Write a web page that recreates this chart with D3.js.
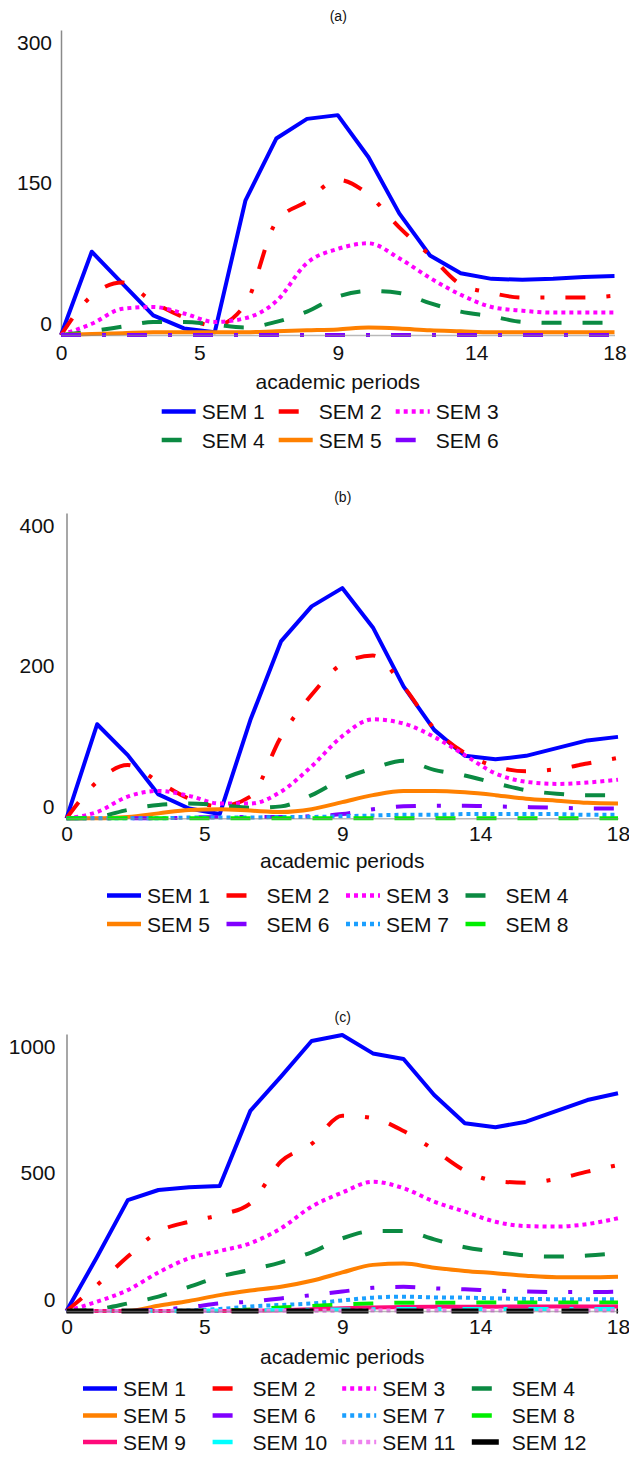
<!DOCTYPE html>
<html>
<head>
<meta charset="utf-8">
<script src="https://cdn.jsdelivr.net/npm/d3@7"></script>
<style>
  html, body { margin: 0; padding: 0; background: #ffffff; }
  svg { display: block; }
  text { font-family: "Liberation Sans", Arial, Helvetica, sans-serif; fill: #111; }
</style>
</head>
<body>
<svg id="chart" width="629" height="1458"></svg>
<script>
// ---------------- data ----------------
const periods = [0, 1, 2, 3, 4, 5, 6, 7, 8, 9, 10, 11, 12, 13, 14, 15, 16, 17, 18];
const xTickValues = [0, 4.5, 9, 13.5, 18];
const xTickLabels = ["0", "5", "9", "14", "18"];
const xTitle = "academic periods";

// panel (a)
const aTitle = "(a)";
const aYTicks = [0, 150, 300];
const aSeriesNames = ["SEM 1", "SEM 2", "SEM 3", "SEM 4", "SEM 5", "SEM 6"];
const aSem1 = [0, 89, 55, 21, 7, 3, 144, 210, 231, 235, 190, 130, 85, 66, 60, 59, 60, 62, 63];
const aSem2 = [0, 42, 56, 35, 19, 10, 33, 121, 143, 166, 150, 115, 85, 54, 45, 40, 40, 40, 42];
const aSem3 = [0, 12, 28, 30, 23, 14, 18, 36, 77, 92, 98, 82, 61, 43, 30, 26, 24, 24, 24];
const aSem4 = [0, 4, 9, 14, 14, 11, 8, 14, 25, 41, 47, 45, 34, 25, 20, 14, 13, 13, 13];
const aSem5 = [0, 1, 2, 3, 3, 3, 3, 4, 5, 6, 8, 7, 5, 4, 3, 3, 3, 3, 3];
const aSem6 = [0, 0, 0, 0, 0, 0, 0, 0, 0, 0, 0, 0, 0, 0, 0, 0, 0, 0, 0];

// panel (b)
const bTitle = "(b)";
const bYTicks = [0, 200, 400];
const bSeriesNames = ["SEM 1", "SEM 2", "SEM 3", "SEM 4", "SEM 5", "SEM 6", "SEM 7", "SEM 8"];
const bSem1 = [0, 134, 90, 34, 14, 6, 140, 252, 302, 328, 272, 188, 126, 89, 84, 89, 100, 111, 116];
const bSem2 = [0, 52, 76, 52, 28, 17, 31, 116, 176, 220, 232, 188, 128, 93, 74, 67, 70, 78, 86];
const bSem3 = [0, 9, 31, 39, 32, 21, 21, 38, 74, 117, 141, 135, 116, 90, 64, 52, 49, 51, 55];
const bSem4 = [0, 2, 12, 19, 21, 19, 15, 17, 33, 56, 71, 82, 69, 61, 50, 40, 35, 33, 33];
const bSem5 = [0, 0, 2, 7, 12, 13, 11, 9, 13, 23, 33, 39, 39, 37, 33, 28, 25, 22, 21];
const bSem6 = [0, 0, 0, 0, 1, 2, 2, 2, 3, 6, 13, 17, 18, 18, 17, 16, 15, 14, 14];
const bSem7 = [0, 0, 0, 0, 1, 1, 1, 2, 2, 3, 4, 5, 5, 6, 6, 6, 6, 5, 5];
const bSem8 = [0, 0, 0, 0, 0, 0, 0, 0, 0, 0, 0, 0, 0, 0, 0, 0, 0, 0, 0];

// panel (c)
const cTitle = "(c)";
const cYTicks = [0, 500, 1000];
const cSeriesNames = ["SEM 1", "SEM 2", "SEM 3", "SEM 4", "SEM 5", "SEM 6", "SEM 7", "SEM 8", "SEM 9", "SEM 10", "SEM 11", "SEM 12"];
const cSem1 = [0, 215, 440, 480, 491, 496, 794, 930, 1071, 1095, 1022, 1000, 857, 745, 729, 751, 794, 837, 864];
const cSem2 = [0, 103, 216, 315, 354, 381, 427, 593, 663, 775, 765, 714, 639, 557, 516, 509, 524, 553, 579];
const cSem3 = [0, 37, 83, 153, 209, 238, 269, 328, 414, 470, 513, 487, 434, 394, 354, 337, 335, 345, 368];
const cSem4 = [0, 7, 30, 57, 96, 136, 163, 193, 233, 288, 317, 317, 284, 253, 235, 220, 216, 220, 229];
const cSem5 = [0, 0, 0, 21, 40, 63, 81, 96, 120, 153, 183, 188, 172, 159, 150, 140, 134, 134, 136];
const cSem6 = [0, 0, 0, 5, 15, 30, 37, 50, 63, 77, 92, 96, 90, 86, 81, 77, 75, 75, 77];
const cSem7 = [0, 0, 0, 0, 2, 8, 18, 24, 30, 42, 53, 57, 54, 53, 50, 48, 47, 47, 47];
const cSem8 = [0, 0, 0, 0, 0, 2, 6, 14, 20, 26, 30, 33, 33, 33, 34, 34, 34, 34, 34];
const cSem9 = [0, 0, 0, 0, 0, 0, 1, 3, 7, 11, 14, 16, 17, 17, 17, 18, 18, 18, 18];
const cSem10 = [0, 0, 0, 0, 1, 2, 3, 4, 5, 6, 7, 8, 8, 8, 8, 8, 8, 8, 8];
const cSem11 = [0, 0, 0, 0, 0, 0, 0, 1, 1, 1, 2, 2, 2, 2, 2, 2, 2, 2, 2];
const cSem12 = [0, 0, 0, 0, 0, 0, 0, 0, 0, 0, 0, 0, 0, 0, 0, 0, 0, 0, 0];

// ---------------- styles (by series name) ----------------
const seriesStyle = {
  "SEM 1":  { color: "#0000ff", dash: null, w: 4 },
  "SEM 2":  { color: "#ff0000", dash: "20,21,4,21", w: 4 },
  "SEM 3":  { color: "#ff00ff", dash: "4,4", w: 4 },
  "SEM 4":  { color: "#0b8a42", dash: "20,21", w: 4 },
  "SEM 5":  { color: "#ff8000", dash: null, w: 4 },
  "SEM 6":  { color: "#8000ff", dash: "20,21,4,21", w: 4 },
  "SEM 7":  { color: "#1a9fff", dash: "4,4", w: 4 },
  "SEM 8":  { color: "#00ee00", dash: "20,21", w: 4 },
  "SEM 9":  { color: "#ff0a7a", dash: null, w: 4 },
  "SEM 10": { color: "#00ffff", dash: "20,21,4,21", w: 4 },
  "SEM 11": { color: "#ee82ee", dash: "4,4", w: 4 },
  "SEM 12": { color: "#000000", dash: "27,28", w: 5 }
};

// ---------------- layout ----------------
const panels = [
  { title: aTitle, titleY: 15.5, names: aSeriesNames,
    series: [aSem1, aSem2, aSem3, aSem4, aSem5, aSem6],
    yTicks: aYTicks, yMax: 326, x0: 61, x1: 614.5, y0: 335, yTop: 30,
    xLabY: 352, xTitleY: 381.5, labRight: 52,
    legendRows: [411.5, 440], legendCol0: 161.7, legendPitch: 117, legendCols: 3 },
  { title: bTitle, titleY: 497.3, names: bSeriesNames,
    series: [bSem1, bSem2, bSem3, bSem4, bSem5, bSem6, bSem7, bSem8],
    yTicks: bYTicks, yMax: 435, x0: 66.5, x1: 618, y0: 818.3, yTop: 513,
    xLabY: 833.3, xTitleY: 860, labRight: 54.5,
    legendRows: [895.5, 924], legendCol0: 107, legendPitch: 119.5, legendCols: 4 },
  { title: cTitle, titleY: 1017.3, names: cSeriesNames,
    series: [cSem1, cSem2, cSem3, cSem4, cSem5, cSem6, cSem7, cSem8, cSem9, cSem10, cSem11, cSem12],
    yTicks: cYTicks, yMax: 1099, x0: 66.5, x1: 618, y0: 1311, yTop: 1034, 
    xLabY: 1326, xTitleY: 1356.5, labRight: 55.5,
    legendRows: [1388.5, 1415.5, 1442], legendCol0: 83, legendPitch: 129.6, legendCols: 4 }
];

const svg = d3.select("#chart");

panels.forEach(p => {
  const g = svg.append("g");
  const x = d3.scaleLinear().domain([periods[0], periods[periods.length - 1]]).range([p.x0, p.x1]);
  const y = d3.scaleLinear().domain([0, p.yMax]).range([p.y0, p.yTop]);

  // title
  g.append("text").attr("x", (p.x0 + p.x1) / 2 + 0.5).attr("y", p.titleY)
    .attr("text-anchor", "middle").attr("dominant-baseline", "central")
    .style("font-size", "14px").text(p.title);

  // y axis
  const yAxis = d3.axisLeft(y).tickValues(p.yTicks).tickSize(0).tickSizeOuter(0).tickFormat(d3.format("d"));
  const gy = g.append("g").attr("transform", `translate(${p.x0},0)`).call(yAxis);
  gy.select(".domain").attr("stroke", "#8a8a8a").attr("stroke-width", 1.5);
  gy.selectAll(".tick text")
    .attr("x", p.labRight - p.x0).attr("dy", null).attr("y", -12.5)
    .attr("dominant-baseline", "central")
    .style("font-size", "21px").style("font-family", "'Liberation Sans', Arial, sans-serif").attr("fill", "#111");

  // lines
  p.series.forEach((vals, i) => {
    const name = p.names[i];
    const st = seriesStyle[name];
    const line = d3.line()
      .x((d, j) => x(periods[j]))
      .y(d => y(d))
      .curve(name === "SEM 1" ? d3.curveLinear : d3.curveMonotoneX);
    g.append("path").datum(vals)
      .attr("d", line)
      .attr("fill", "none")
      .attr("stroke", st.color)
      .attr("stroke-width", st.w)
      .attr("stroke-dasharray", st.dash)
      .attr("stroke-linejoin", "round");
  });

  // x axis (drawn after lines so it stays visible)
  const xAxis = d3.axisBottom(x).tickValues(xTickValues).tickSize(0).tickSizeOuter(0)
    .tickFormat((d, i) => xTickLabels[i]);
  const gx = g.append("g").attr("transform", `translate(0,${p.y0})`).call(xAxis);
  gx.select(".domain").attr("stroke", "#8a8a8a").attr("stroke-width", 1.5).attr("opacity", 0.6);
  gx.selectAll(".tick text")
    .attr("y", p.xLabY - p.y0).attr("dy", null)
    .attr("dominant-baseline", "central")
    .style("font-size", "21px").style("font-family", "'Liberation Sans', Arial, sans-serif").attr("fill", "#111");

  // x title
  g.append("text").attr("x", (p.x0 + p.x1) / 2).attr("y", p.xTitleY)
    .attr("text-anchor", "middle").attr("dominant-baseline", "central")
    .style("font-size", "21px").text(xTitle);

  // legend
  p.names.forEach((name, i) => {
    const st = seriesStyle[name];
    const col = i % p.legendCols, row = Math.floor(i / p.legendCols);
    const lx = p.legendCol0 + col * p.legendPitch;
    const ly = p.legendRows[row];
    g.append("line").attr("x1", lx).attr("x2", lx + 34).attr("y1", ly).attr("y2", ly)
      .attr("stroke", st.color).attr("stroke-width", st.w + 0.5)
      .attr("stroke-dasharray", st.dash);
    g.append("text").attr("x", lx + 40).attr("y", ly)
      .attr("dominant-baseline", "central")
      .style("font-size", "21px").text(name);
  });
});
</script>
</body>
</html>
